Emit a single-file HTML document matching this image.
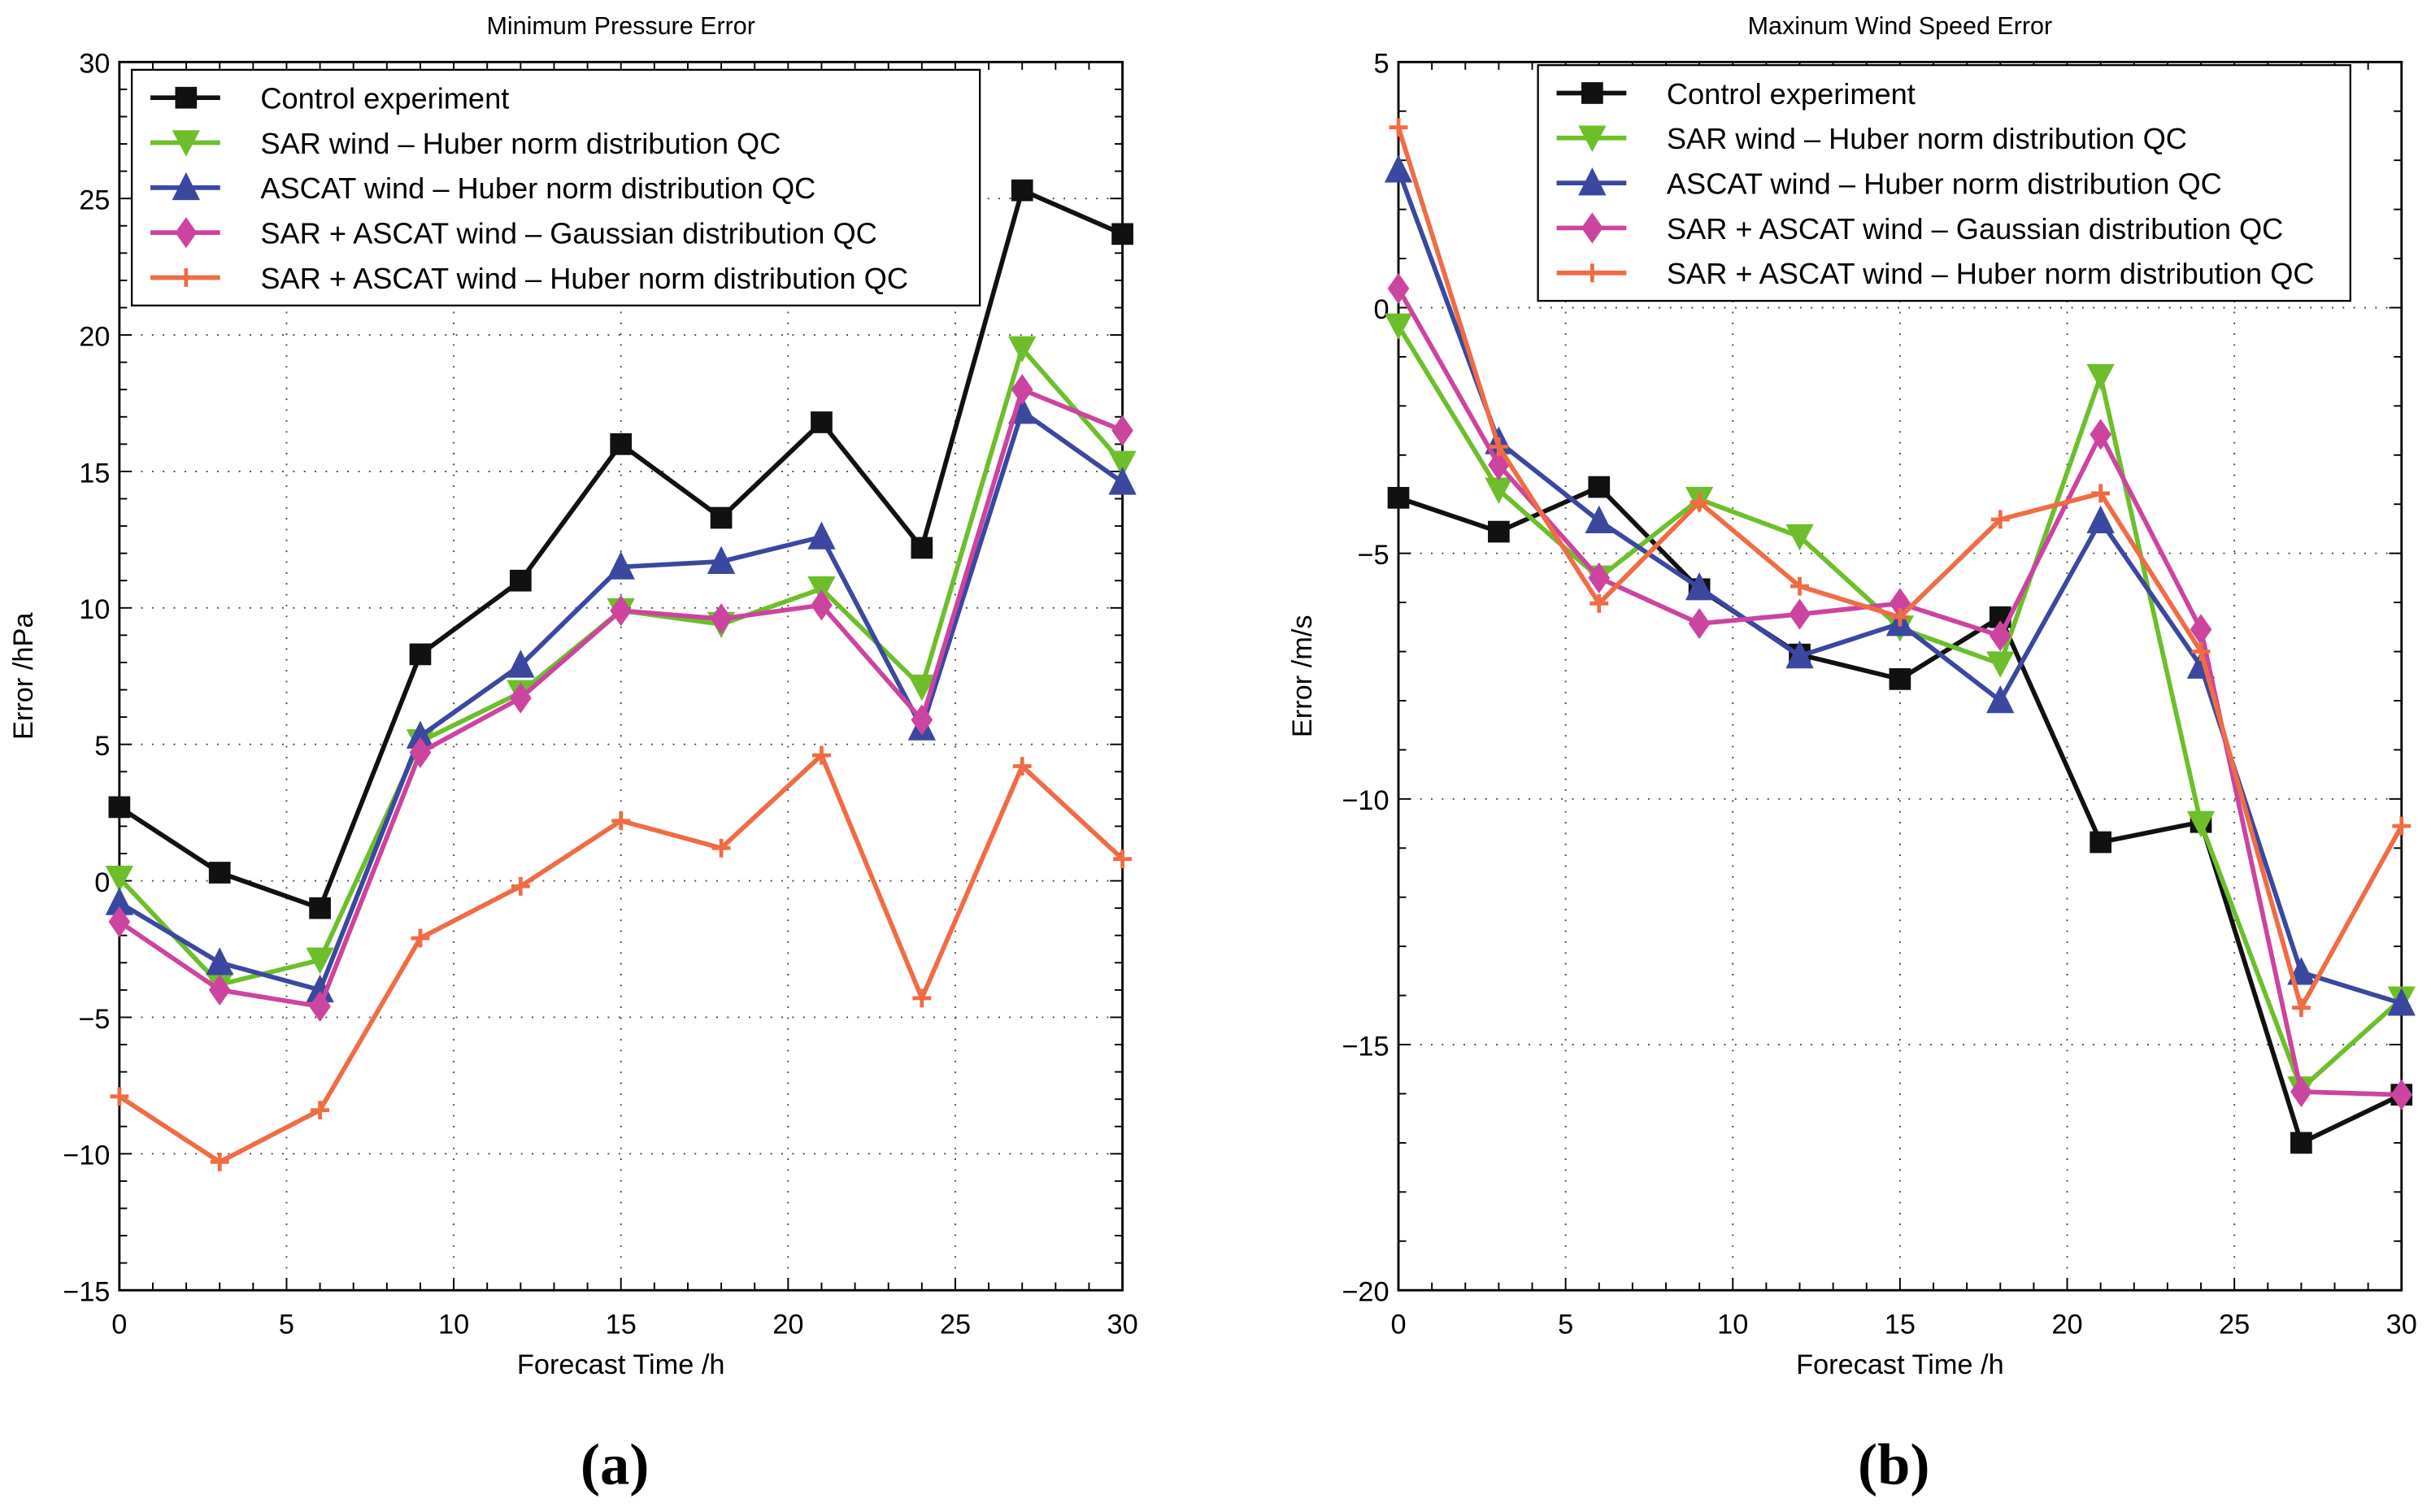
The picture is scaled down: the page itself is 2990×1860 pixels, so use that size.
<!DOCTYPE html>
<html><head><meta charset="utf-8"><style>html,body{margin:0;padding:0;background:#fff}svg{display:block}</style></head>
<body>
<svg id="fig" width="2990" height="1860" viewBox="0 0 1568 975" preserveAspectRatio="none" xmlns="http://www.w3.org/2000/svg" font-family="Liberation Sans, sans-serif"></svg>
<script>
const hours = [0,3,6,9,12,15,18,21,24,27,30];
const seriesNames = ["Control experiment","SAR wind \u2013 Huber norm distribution QC","ASCAT wind \u2013 Huber norm distribution QC","SAR + ASCAT wind \u2013 Gaussian distribution QC","SAR + ASCAT wind \u2013 Huber norm distribution QC"];
const pControl = [2.7,0.3,-1.0,8.3,11.0,16.0,13.3,16.8,12.2,25.3,23.7];
const pSar = [0.1,-3.8,-2.9,5.1,6.9,9.9,9.4,10.7,7.1,19.5,15.3];
const pAscat = [-0.8,-3.0,-4.0,5.3,7.9,11.5,11.7,12.6,5.6,17.2,14.6];
const pGauss = [-1.5,-4.0,-4.6,4.7,6.7,9.9,9.6,10.1,5.9,18.0,16.5];
const pHuber = [-7.9,-10.3,-8.4,-2.1,-0.2,2.2,1.2,4.6,-4.3,4.2,0.8];
const wControl = [-3.87,-4.56,-3.65,-5.73,-7.06,-7.56,-6.3,-10.88,-10.47,-17.0,-16.02];
const wSar = [-0.37,-3.71,-5.5,-3.9,-4.66,-6.52,-7.25,-1.4,-10.5,-15.9,-14.07];
const wAscat = [2.8,-2.73,-4.34,-5.7,-7.09,-6.43,-8.0,-4.34,-7.3,-13.53,-14.16];
const wGauss = [0.39,-3.2,-5.5,-6.43,-6.24,-6.02,-6.68,-2.58,-6.55,-15.96,-16.02];
const wHuber = [3.67,-2.83,-6.02,-3.96,-5.67,-6.3,-4.31,-3.78,-7.0,-14.25,-10.55];
const xTicks = [0,5,10,15,20,25,30];
const yTicksA = [30,25,20,15,10,5,0,-5,-10,-15];
const yTicksB = [5,0,-5,-10,-15,-20];

const colors = ["#111111","#6cbf2a","#3a48a0","#cc44a0","#ef6c44"];
const markers = ["square","tdown","tup","diamond","plus"];
const NS="http://www.w3.org/2000/svg";
const svg=document.getElementById('fig');
function mk(tag,attrs,parent){const e=document.createElementNS(NS,tag);for(const k in attrs)e.setAttribute(k,attrs[k]);(parent||svg).appendChild(e);return e;}

function drawMarker(g,type,x,y,c){
  let m;
  if(type==="square") m=mk('rect',{x:x-7,y:y-7,width:14,height:14,fill:c},g);
  else if(type==="tdown") m=mk('polygon',{points:`${x-9},${y-8} ${x+9},${y-8} ${x},${y+9}`,fill:c},g);
  else if(type==="tup") m=mk('polygon',{points:`${x-9},${y+8} ${x+9},${y+8} ${x},${y-10}`,fill:c},g);
  else if(type==="diamond") m=mk('polygon',{points:`${x},${y-10} ${x+7},${y} ${x},${y+10} ${x-7},${y}`,fill:c},g);
  else m=mk('path',{d:`M${x-6},${y}H${x+6}M${x},${y-6}V${y+6}`,stroke:c,'stroke-width':2.5},g);
  
  
}

function panel(cfg){
  const g=mk('g',{});
  
  
  const sx=v=>cfg.x0+(v-0)/30*(cfg.x1-cfg.x0);
  const sy=v=>cfg.yTop+(cfg.ymax-v)/(cfg.ymax-cfg.ymin)*(cfg.yBot-cfg.yTop);
  xTicks.forEach(v=>{if(v>0&&v<30){const l=mk('line',{x1:sx(v),x2:sx(v),y1:cfg.yTop,y2:cfg.yBot,stroke:'#444','stroke-width':1,'stroke-dasharray':'1 6'},g);}});
  cfg.yTicks.forEach(v=>{if(v>cfg.ymin&&v<cfg.ymax){const l=mk('line',{x1:cfg.x0,x2:cfg.x1,y1:sy(v),y2:sy(v),stroke:'#444','stroke-width':1,'stroke-dasharray':'1 6'},g);}});
  for(let v=0;v<=30;v++){const L=v%5===0?8:5;mk('line',{x1:sx(v),x2:sx(v),y1:cfg.yBot,y2:cfg.yBot-L,stroke:'#000','stroke-width':1},g);mk('line',{x1:sx(v),x2:sx(v),y1:cfg.yTop,y2:cfg.yTop+L,stroke:'#000','stroke-width':1},g);}
  for(let v=cfg.ymin;v<=cfg.ymax;v++){const L=v%5===0?8:5;mk('line',{x1:cfg.x0,x2:cfg.x0+L,y1:sy(v),y2:sy(v),stroke:'#000','stroke-width':1},g);mk('line',{x1:cfg.x1,x2:cfg.x1-L,y1:sy(v),y2:sy(v),stroke:'#000','stroke-width':1},g);}
  const frame=mk('rect',{x:cfg.x0,y:cfg.yTop,width:cfg.x1-cfg.x0,height:cfg.yBot-cfg.yTop,fill:'none',stroke:'#000','stroke-width':1.5},g);
  
  xTicks.forEach(v=>{const t=mk('text',{x:sx(v),y:cfg.yBot+28,'font-size':18,'text-anchor':'middle'},g);t.textContent=v;});
  cfg.yTicks.forEach(v=>{const t=mk('text',{x:cfg.x0-6,y:sy(v)+7,'font-size':18,'text-anchor':'end'},g);t.textContent=v<0?'\u2212'+(-v):v;});
  const cx=(cfg.x0+cfg.x1)/2;
  let t=mk('text',{x:cx,y:22,'font-size':16,'text-anchor':'middle'},g);t.textContent=cfg.title;
  t=mk('text',{x:cx,y:886,'font-size':18,'text-anchor':'middle'},g);t.textContent='Forecast Time /h';
  t=mk('text',{x:0,y:0,'font-size':18,'text-anchor':'middle',transform:`translate(${cfg.x0-56},${(cfg.yTop+cfg.yBot)/2}) rotate(-90)`},g);t.textContent=cfg.ylabel;
  t=mk('text',{x:cx-4,y:957,'font-size':38,'font-weight':'bold','text-anchor':'middle','font-family':'Liberation Serif, serif'},g);t.textContent=cfg.tag;
  cfg.series.forEach((vals,i)=>{
    const sg=mk('g',{},g);
    
    
    const pts=vals.map((v,j)=>sx(hours[j])+','+sy(v)).join(' ');
    mk('polyline',{points:pts,fill:'none',stroke:colors[i],'stroke-width':3,'stroke-linejoin':'round'},sg);
    vals.forEach((v,j)=>drawMarker(sg,markers[i],sx(hours[j]),sy(v),colors[i]));
  });
  const lg=mk('g',{},g);
  
  
  mk('rect',{x:cfg.lx,y:cfg.ly,width:cfg.lw,height:152,fill:'#fff',stroke:'#000','stroke-width':1.2},lg);
  seriesNames.forEach((n,i)=>{
    const y=cfg.ly+18+i*29;
    const eg=mk('g',{},lg);
    
    
    mk('line',{x1:cfg.lx+12,x2:cfg.lx+57,y1:y,y2:y,stroke:colors[i],'stroke-width':3},eg);
    drawMarker(eg,markers[i],cfg.lx+35,y,colors[i]);
    const tt=mk('text',{x:cfg.lx+83,y:y+7,'font-size':19},eg);tt.textContent=n;
  });
}
panel({name:'pressure-error-chart',x0:77,x1:724,yTop:40,yBot:832,ymin:-15,ymax:30,yTicks:yTicksA,title:'Minimum Pressure Error',ylabel:'Error /hPa',tag:'(a)',series:[pControl,pSar,pAscat,pGauss,pHuber],lx:85,ly:45,lw:547});
panel({name:'wind-speed-error-chart',x0:902,x1:1549,yTop:40,yBot:832,ymin:-20,ymax:5,yTicks:yTicksB,title:'Maxinum Wind Speed Error',ylabel:'Error /m/s',tag:'(b)',series:[wControl,wSar,wAscat,wGauss,wHuber],lx:992,ly:42,lw:524});
</script>
</body></html>
